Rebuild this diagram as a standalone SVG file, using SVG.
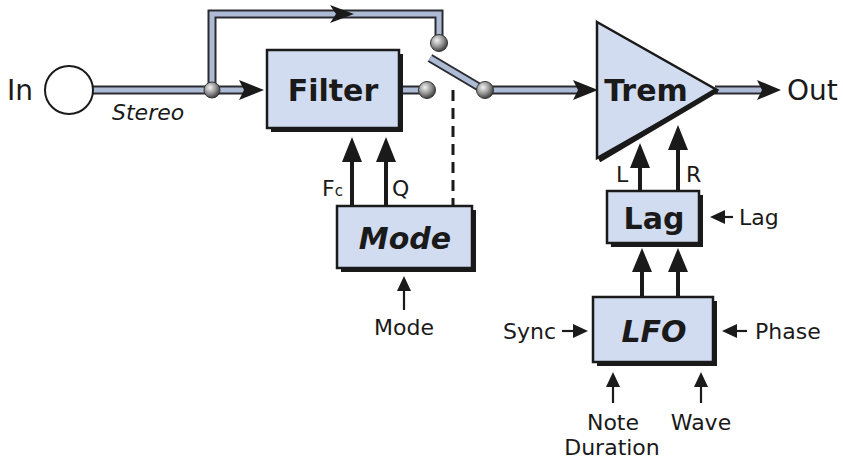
<svg xmlns="http://www.w3.org/2000/svg" width="843" height="464" viewBox="0 0 843 464">
<defs>
<style>
.pipeO{fill:none;stroke:#2a2a30;stroke-width:9;stroke-linejoin:miter}
.pipeI{fill:none;stroke:#aebbd4;stroke-width:5;stroke-linejoin:miter}
.box{fill:#d2dcf0;stroke:#1a1a1a;stroke-width:2.5}
.shadow{fill:#1a1a1a}
.bt{font-family:"DejaVu Sans","Liberation Sans",sans-serif;font-weight:bold;font-size:30px;fill:#1a1a1a;text-anchor:middle}
.lbl{font-family:"DejaVu Sans","Liberation Sans",sans-serif;font-size:22px;fill:#1a1a1a}
.big{font-family:"DejaVu Sans","Liberation Sans",sans-serif;font-size:28px;fill:#1a1a1a}
.ctl{fill:none;stroke:#1a1a1a;stroke-width:4}
.thin{fill:none;stroke:#1a1a1a;stroke-width:2.2}
</style>
<radialGradient id="ball" cx="0.38" cy="0.35" r="0.7">
<stop offset="0" stop-color="#f2f2f2"/>
<stop offset="0.5" stop-color="#9a9a9a"/>
<stop offset="1" stop-color="#333"/>
</radialGradient>
</defs>

<g id="connectors">
<path class="pipeO" d="M93,90 H244"/>
<path class="pipeI" d="M93,90 H244"/>
<path class="pipeO" d="M212,90 V14 H439 V36"/>
<path class="pipeI" d="M212,90 V14 H439 V36"/>
<path class="pipeO" d="M400,90 H420"/>
<path class="pipeI" d="M400,90 H420"/>
<path class="pipeO" d="M430,58 L484,90"/>
<path class="pipeI" d="M430,58 L484,90"/>
<path class="pipeO" d="M484,90 H578"/>
<path class="pipeI" d="M484,90 H578"/>
<path class="pipeO" d="M715,90 H762"/>
<path class="pipeI" d="M715,90 H762"/>
<polygon points="239,80 264,90 239,100 244,90" fill="#1a1a1a"/>
<polygon points="330,5 354,14 330,23 336,14" fill="#1a1a1a"/>
<polygon points="573,80 598,90 573,100 578,90" fill="#1a1a1a"/>
<polygon points="757,80 781,90 757,100 762,90" fill="#1a1a1a"/>
<circle cx="212" cy="90" r="8" fill="url(#ball)" stroke="#333" stroke-width="1"/>
<circle cx="427" cy="90" r="8.5" fill="url(#ball)" stroke="#333" stroke-width="1"/>
<circle cx="439" cy="43" r="8.5" fill="url(#ball)" stroke="#333" stroke-width="1"/>
<circle cx="485" cy="90" r="8.5" fill="url(#ball)" stroke="#333" stroke-width="1"/>
<path d="M453,90 V206" fill="none" stroke="#1a1a1a" stroke-width="3" stroke-dasharray="11,7"/>
<path class="ctl" d="M352,206 V158"/>
<polygon points="342,162 352,137 362,162" fill="#1a1a1a"/>
<path class="ctl" d="M386,206 V158"/>
<polygon points="376,162 386,137 396,162" fill="#1a1a1a"/>
<path class="ctl" d="M640,191 V164"/>
<polygon points="630,168 640,143 650,168" fill="#1a1a1a"/>
<path class="ctl" d="M678,191 V146"/>
<polygon points="668,150 678,125 688,150" fill="#1a1a1a"/>
<path class="ctl" d="M642,297 V268"/>
<polygon points="632,272 642,248 652,272" fill="#1a1a1a"/>
<path class="ctl" d="M678,297 V268"/>
<polygon points="668,272 678,248 688,272" fill="#1a1a1a"/>
<path class="thin" d="M404,310 V285"/>
<polygon points="397,291 404,276 411,291" fill="#1a1a1a"/>
<path class="thin" d="M733,217 H720"/>
<polygon points="725,210 710,217 725,224" fill="#1a1a1a"/>
<path class="thin" d="M562,331 H578"/>
<polygon points="573,324 588,331 573,338" fill="#1a1a1a"/>
<path class="thin" d="M747,331 H732"/>
<polygon points="737,324 722,331 737,338" fill="#1a1a1a"/>
<path class="thin" d="M613,403 V382"/>
<polygon points="606,387 613,372 620,387" fill="#1a1a1a"/>
<path class="thin" d="M701,403 V382"/>
<polygon points="694,387 701,372 708,387" fill="#1a1a1a"/>
</g>

<g id="in">
<circle cx="69" cy="90" r="24" fill="#fff" stroke="#1a1a1a" stroke-width="2"/>
<text class="big" x="7" y="100">In</text>
<text class="lbl" x="112" y="120" font-style="italic" font-size="21">Stereo</text>
</g>

<g id="filter">
<rect class="shadow" x="271" y="54" width="132" height="78"/>
<rect class="box" x="267" y="50" width="132" height="78"/>
<text class="bt" x="333" y="101">Filter</text>
</g>

<g id="mode">
<rect class="shadow" x="341" y="210" width="135" height="62"/>
<rect class="box" x="337" y="206" width="135" height="62"/>
<text class="bt" x="405" y="249" font-style="italic">Mode</text>
<text class="lbl" x="322" y="196">F<tspan font-size="15">c</tspan></text>
<text class="lbl" x="392" y="196">Q</text>
<text class="lbl" x="404" y="335" text-anchor="middle">Mode</text>
</g>

<g id="trem">
<polygon points="597,22 717,90 597,158" class="box"/>
<path d="M599,160 L717,90" stroke="#1a1a1a" stroke-width="5" fill="none"/>
<text class="bt" x="646" y="101">Trem</text>
<text class="big" x="787" y="100">Out</text>
<text class="lbl" x="616" y="182" font-size="18">L</text>
<text class="lbl" x="686" y="182" font-size="18">R</text>
</g>

<g id="lag">
<rect class="shadow" x="611" y="195" width="92" height="52"/>
<rect class="box" x="607" y="191" width="92" height="52"/>
<text class="bt" x="654" y="229">Lag</text>
<text class="lbl" x="739" y="225">Lag</text>
</g>

<g id="lfo">
<rect class="shadow" x="597" y="301" width="120" height="65"/>
<rect class="box" x="593" y="297" width="120" height="65"/>
<text class="bt" x="654" y="342" font-style="italic">LFO</text>
<text class="lbl" x="503" y="339">Sync</text>
<text class="lbl" x="755" y="339">Phase</text>
<text class="lbl" x="613" y="430" text-anchor="middle">Note</text>
<text class="lbl" x="612" y="455" text-anchor="middle">Duration</text>
<text class="lbl" x="701" y="430" text-anchor="middle">Wave</text>
</g>
</svg>
